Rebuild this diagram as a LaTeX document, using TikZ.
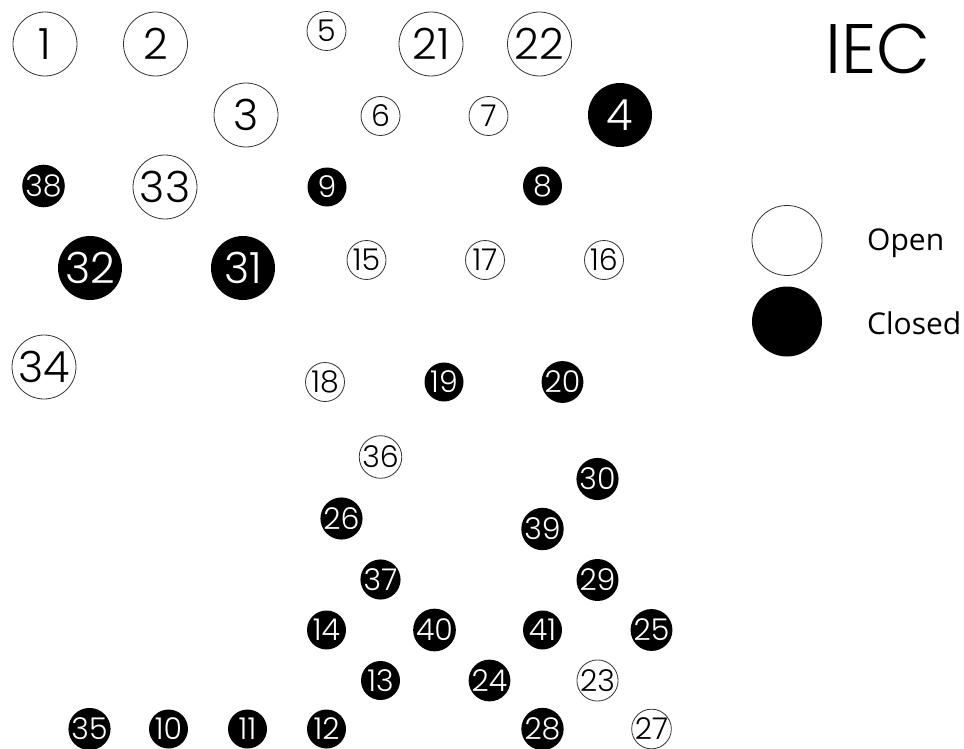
\documentclass[tikz,border=0pt]{standalone}
\usepackage{fontspec}
\setmainfont{Poppins}[UprightFont=* Light]
\newfontfamily\legendfont{Open Sans}
\begin{document}
\begin{tikzpicture}[x=1pt,y=-1pt,
  circ/.style={circle,inner sep=0pt,line width=0.8pt},
  bigopen/.style={circ,draw=black!80,fill=white,minimum size=64pt,font=\fontsize{43}{43}\selectfont},
  smallopen/.style={circ,draw=black!80,fill=white,minimum size=39pt,font=\fontsize{30}{30}\selectfont},
  bigclosed/.style={circ,fill=black,text=white,minimum size=64pt,font=\fontsize{43}{43}\selectfont},
  smallclosed/.style={circ,fill=black,text=white,minimum size=39pt,font=\fontsize{30}{30}\selectfont},
  legopen/.style={circ,draw=black!80,fill=white,minimum size=70pt},
  legclosed/.style={circ,fill=black,minimum size=70pt},
  legtext/.style={anchor=base west,inner sep=0pt,font=\legendfont\fontsize{30}{30}\selectfont},
]
\useasboundingbox (0,0) rectangle (964,749);
% row 1
\node[bigopen] (n1) at (45,44) {1};
\node[bigopen] (n2) at (155.5,44) {2};
\node[smallopen] (n5) at (326.5,31) {5};
\node[bigopen] (n21) at (431,44) {21};
\node[bigopen] (n22) at (539.5,44) {22};
% row 2
\node[bigopen] (n3) at (246,115) {3};
\node[smallopen] (n6) at (380.5,116) {6};
\node[smallopen] (n7) at (488.5,116) {7};
\node[bigclosed] (n4) at (620,115) {4};
% row 3
\node[smallclosed] (n38) at (43.5,186) {38};
\node[bigopen] (n33) at (165,187) {33};
\node[smallclosed] (n9) at (327,187) {9};
\node[smallclosed] (n8) at (542.5,186) {8};
% row 4
\node[bigclosed] (n32) at (90,268) {32};
\node[bigclosed] (n31) at (243,268) {31};
\node[smallopen] (n15) at (366.5,260) {15};
\node[smallopen] (n17) at (485,260) {17};
\node[smallopen] (n16) at (604,260) {16};
% row 5
\node[bigopen] (n34) at (44,367) {34};
\node[smallopen] (n18) at (325,382) {18};
\node[smallclosed] (n19) at (444,382) {19};
\node[smallclosed] (n20) at (562.5,382) {20};
% lower part
\node[smallopen] (n36) at (380.5,457) {36};
\node[smallclosed] (n30) at (597.5,479) {30};
\node[smallclosed] (n26) at (341.5,518.5) {26};
\node[smallclosed] (n39) at (542.5,529) {39};
\node[smallclosed] (n37) at (380.5,579.5) {37};
\node[smallclosed] (n29) at (597.5,580) {29};
\node[smallclosed] (n14) at (326.5,630) {14};
\node[smallclosed] (n40) at (434.5,630) {40};
\node[smallclosed] (n41) at (542.5,630) {41};
\node[smallclosed] (n25) at (651.5,630) {25};
\node[smallclosed] (n13) at (380.5,680.5) {13};
\node[smallclosed] (n24) at (489.5,680.5) {24};
\node[smallopen] (n23) at (597.5,680.5) {23};
\node[smallclosed] (n35) at (89.5,729) {35};
\node[smallclosed] (n10) at (168.5,729) {10};
\node[smallclosed] (n11) at (247.5,729) {11};
\node[smallclosed] (n12) at (326.5,729) {12};
\node[smallclosed] (n28) at (542.5,729) {28};
\node[smallopen] (n27) at (651.5,729) {27};
% title and legend
\node[anchor=base west,inner sep=0pt,font=\fontsize{70}{70}\selectfont] (title) at (825,74) {IEC};
\node[legopen] (lopen) at (787,240.5) {};
\node[legclosed] (lclosed) at (787,321.5) {};
\node[legtext] (topen) at (867,250) {Open};
\node[legtext] (tclosed) at (867,334) {Closed};
\end{tikzpicture}
\end{document}
